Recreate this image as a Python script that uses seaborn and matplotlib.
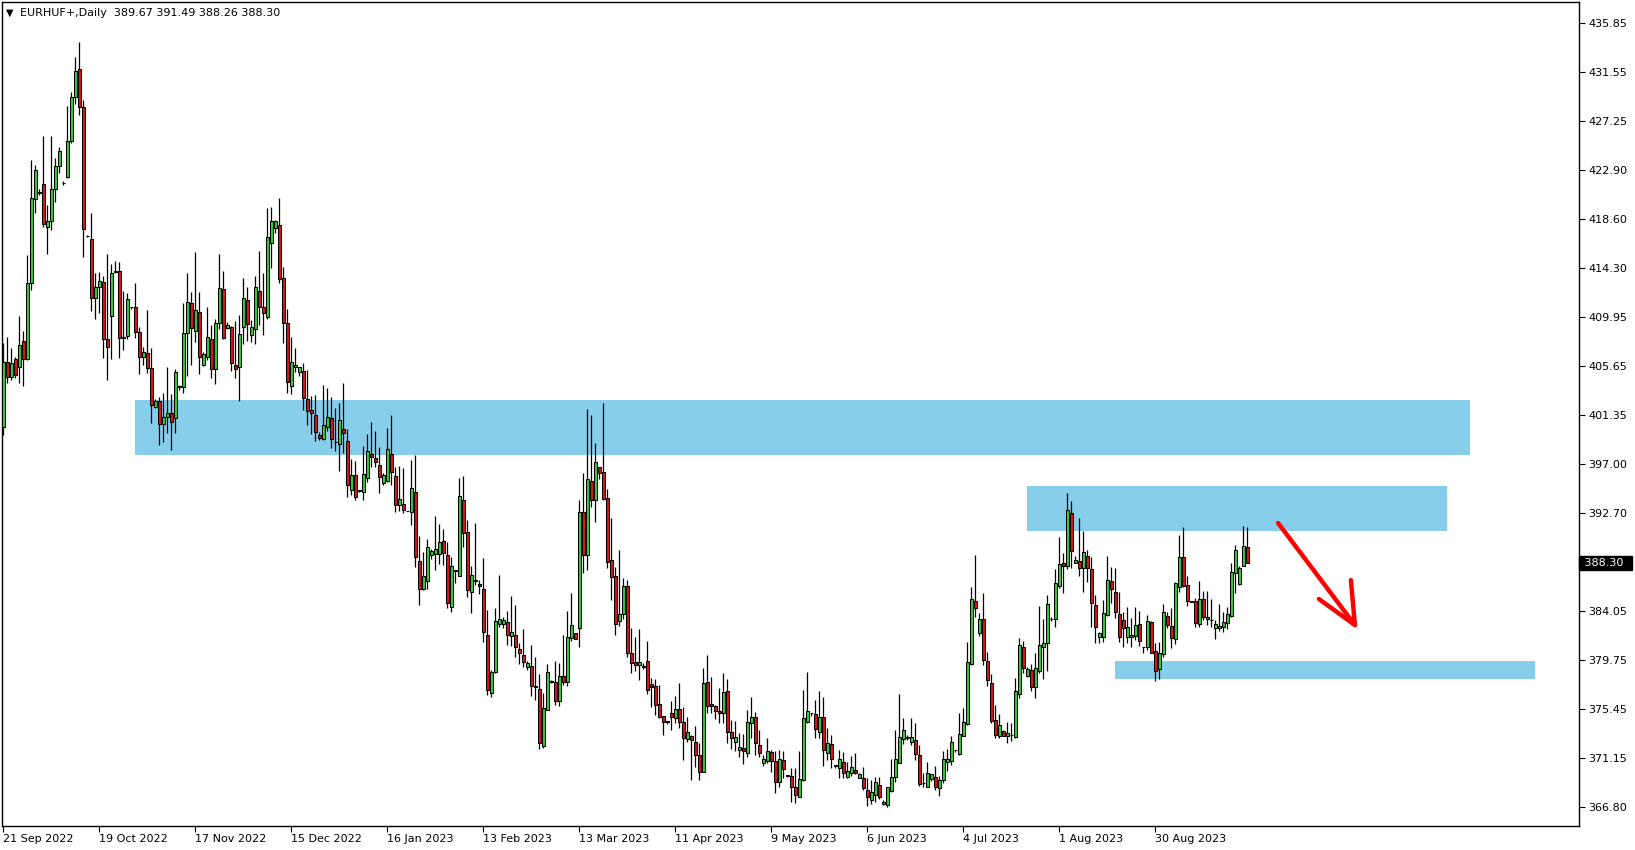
import numpy as np
import pandas as pd
import matplotlib
matplotlib.use("Agg")
import matplotlib.pyplot as plt
import seaborn as sns
from matplotlib import transforms

# ---------------- data ----------------
symbol_title = "EURHUF+,Daily"
title_values = "389.67 391.49 388.26 388.30"

opens = [400.30, 405.97, 404.65, 406.23, 405.53, 407.82, 406.23, 412.92, 420.32, 420.91,
         421.64, 417.85, 418.38, 421.20, 423.25, 421.73, 422.26, 425.43, 429.30, 431.77,
         428.42, 417.09, 416.80, 411.60, 412.57, 413.01, 407.99, 410.07, 413.98, 413.98,
         408.23, 408.29, 410.81, 410.81, 408.61, 406.41, 406.76, 405.44, 402.04, 402.59,
         400.51, 401.12, 401.47, 401.04, 403.82, 403.82, 408.52, 411.16, 408.76, 410.37,
         405.73, 406.47, 408.02, 405.35, 409.46, 412.39, 409.02, 409.08, 405.70, 405.52,
         409.11, 411.42, 408.40, 408.87, 412.22, 410.81, 409.93, 416.44, 417.76, 418.03,
         413.36, 409.40, 403.91, 405.52, 405.14, 405.17, 402.71, 401.77, 401.30, 399.54,
         399.24, 400.24, 401.03, 398.92, 398.75, 400.07, 399.01, 394.69, 396.01, 394.66,
         394.52, 395.75, 397.89, 397.51, 396.93, 395.37, 395.55, 397.86, 395.96, 393.40,
         393.48, 392.87, 392.81, 394.51, 388.43, 386.03, 386.73, 389.02, 389.11, 389.11,
         390.19, 388.96, 384.44, 387.61, 387.17, 393.80, 390.99, 385.70, 386.73, 386.44,
         385.97, 381.92, 376.81, 378.66, 382.92, 382.89, 383.06, 381.86, 381.95, 380.71,
         380.19, 379.10, 379.22, 377.40, 377.19, 372.20, 375.34, 377.84, 377.81, 376.16,
         378.34, 377.84, 381.71, 382.09, 382.53, 392.78, 389.02, 395.51, 393.83, 396.71,
         396.27, 393.98, 388.52, 387.11, 383.18, 383.80, 386.30, 380.34, 379.57, 379.34,
         379.16, 379.69, 377.61, 377.46, 375.84, 374.82, 374.32, 375.05, 374.67, 375.40,
         374.26, 372.76, 373.06, 372.50, 371.38, 369.91, 377.81, 375.87, 375.70, 375.29,
         375.05, 377.02, 373.41, 372.56, 371.82, 371.97, 371.53, 374.17, 374.70, 372.23,
         370.65, 370.88, 371.68, 370.82, 369.03, 370.91, 369.56, 369.53, 368.53, 367.71,
         369.18, 374.26, 375.05, 374.96, 373.44, 374.70, 371.59, 372.32, 370.44, 370.21,
         370.74, 369.48, 369.77, 370.06, 369.39, 369.36, 368.30, 367.42, 367.86, 368.74,
         367.04, 366.95, 368.24, 369.48, 370.71, 372.76, 372.91, 372.56, 372.70, 371.38,
         368.89, 368.54, 369.24, 369.42, 368.51, 369.18, 370.80, 370.86, 371.82, 371.47,
         373.09, 374.12, 379.40, 384.95, 382.16, 383.33, 379.66, 377.75, 374.47, 373.09,
         373.50, 373.09, 373.15, 373.00, 376.73, 380.87, 378.37, 378.87, 377.34, 378.81,
         380.93, 381.28, 383.36, 383.33, 386.26, 388.26, 388.06, 392.66, 388.32, 388.47,
         387.82, 388.94, 387.73, 384.59, 381.80, 381.75, 383.71, 386.71, 385.71, 383.77,
         383.27, 381.75, 381.80, 381.89, 382.89, 380.87, 380.87, 383.10, 380.54, 378.93,
         380.25, 383.62, 382.75, 381.57, 386.21, 388.79, 386.35, 384.89, 384.95, 382.92,
         385.12, 383.33, 383.27, 382.54, 382.60, 382.69, 383.04, 383.65, 387.38, 386.41,
         388.06, 389.67]

highs = [407.64, 408.23, 407.26, 406.47, 410.07, 408.73, 415.42, 423.78, 423.34, 421.20,
         425.90, 419.82, 425.90, 423.96, 424.96, 421.90, 428.54, 429.77, 432.88, 434.17,
         429.07, 417.15, 419.14, 413.86, 413.89, 413.60, 415.51, 414.60, 414.86, 414.77,
         412.25, 412.04, 410.85, 412.92, 409.05, 407.35, 410.57, 407.20, 402.70, 402.94,
         403.24, 405.53, 403.18, 405.35, 404.00, 411.16, 413.80, 412.13, 415.68, 412.13,
         406.85, 410.87, 409.25, 409.81, 415.50, 414.01, 409.55, 409.19, 409.60, 410.13,
         413.36, 412.57, 409.69, 413.60, 415.77, 413.80, 419.53, 419.61, 418.50, 420.44,
         414.33, 410.66, 408.20, 407.23, 405.52, 405.88, 405.29, 403.00, 403.09, 399.86,
         403.97, 403.73, 402.88, 401.91, 402.41, 404.17, 400.09, 397.42, 397.28, 394.70,
         398.60, 399.65, 400.68, 399.95, 398.54, 396.19, 400.15, 401.33, 396.72, 396.80,
         396.62, 392.90, 397.36, 397.80, 390.66, 389.23, 390.37, 389.49, 392.42, 391.72,
         391.28, 390.11, 388.78, 387.65, 395.80, 395.95, 392.07, 388.02, 391.78, 386.79,
         388.73, 384.15, 378.87, 384.32, 387.23, 383.50, 384.06, 385.41, 384.59, 381.21,
         382.47, 379.66, 381.07, 380.04, 378.51, 376.81, 379.36, 378.00, 379.69, 379.51,
         381.95, 384.09, 385.62, 382.15, 393.83, 396.18, 401.82, 401.32, 398.82, 396.71,
         402.40, 394.80, 392.22, 387.90, 389.43, 387.00, 386.80, 382.54, 381.74, 382.45,
         379.45, 381.42, 378.13, 378.04, 377.55, 374.85, 374.35, 376.14, 376.58, 377.75,
         375.58, 374.70, 373.10, 373.94, 372.41, 379.01, 380.19, 378.28, 375.75, 377.25,
         378.63, 378.04, 374.46, 374.38, 373.29, 373.23, 375.35, 376.46, 375.20, 373.58,
         371.38, 372.85, 371.82, 371.76, 371.82, 371.73, 369.60, 370.21, 370.21, 371.76,
         377.11, 378.66, 375.10, 376.23, 377.02, 376.52, 373.73, 373.14, 370.48, 371.82,
         371.62, 370.79, 371.30, 371.59, 369.77, 370.35, 369.33, 369.18, 369.42, 369.42,
         367.42, 368.60, 371.03, 373.59, 376.76, 374.61, 373.10, 374.61, 374.17, 372.26,
         369.83, 370.79, 369.68, 370.44, 369.53, 371.74, 371.88, 373.06, 371.86, 375.11,
         375.49, 381.36, 386.21, 388.99, 383.86, 385.68, 380.43, 378.49, 375.79, 374.96,
         373.55, 374.32, 374.17, 378.13, 381.65, 381.42, 379.10, 379.40, 380.34, 384.51,
         383.36, 385.47, 383.50, 387.73, 390.55, 389.20, 394.43, 393.75, 388.91, 392.22,
         391.11, 389.44, 388.79, 385.47, 382.25, 385.03, 388.91, 387.91, 387.88, 385.77,
         384.01, 384.45, 383.48, 384.45, 384.06, 380.90, 383.71, 383.15, 381.22, 381.30,
         384.68, 384.01, 384.30, 386.65, 390.76, 391.43, 387.15, 384.93, 385.18, 386.71,
         385.83, 385.83, 385.09, 383.27, 384.68, 384.01, 384.45, 388.32, 389.88, 388.03,
         391.55, 391.49]

lows = [399.57, 404.18, 404.41, 404.62, 404.18, 403.91, 406.17, 412.34, 419.14, 420.70,
        417.85, 415.48, 417.62, 420.06, 422.61, 421.60, 422.23, 425.31, 428.71, 427.77,
        415.27, 417.00, 410.52, 409.81, 410.34, 406.38, 404.41, 406.26, 413.85, 406.38,
        407.05, 407.99, 410.63, 408.11, 404.91, 405.73, 405.06, 400.59, 401.90, 398.69,
        398.98, 399.72, 398.25, 399.72, 403.50, 403.24, 404.79, 405.73, 407.79, 404.91,
        405.60, 406.17, 404.56, 404.06, 408.90, 407.99, 408.90, 405.23, 404.61, 402.59,
        407.58, 407.87, 407.78, 407.61, 409.22, 408.37, 409.75, 414.30, 417.32, 412.98,
        407.70, 403.24, 403.21, 405.11, 404.76, 401.77, 400.45, 399.66, 399.07, 399.13,
        399.16, 399.95, 398.39, 398.19, 396.43, 397.95, 394.14, 394.28, 393.84, 394.52,
        393.84, 395.46, 396.72, 396.78, 394.49, 395.16, 395.46, 395.16, 392.80, 392.90,
        392.66, 392.84, 391.63, 387.96, 384.59, 385.91, 386.00, 388.64, 387.67, 388.20,
        388.11, 384.32, 384.00, 386.55, 387.14, 389.72, 385.26, 383.91, 386.35, 385.53,
        381.36, 376.66, 376.52, 378.57, 382.68, 382.53, 381.07, 380.99, 380.04, 379.39,
        379.16, 378.87, 376.60, 376.22, 371.88, 371.97, 375.34, 377.70, 375.78, 375.72,
        377.54, 377.49, 381.42, 381.56, 380.92, 387.43, 387.67, 393.25, 391.93, 395.71,
        393.83, 387.82, 385.03, 381.95, 382.74, 383.40, 380.04, 378.63, 378.81, 377.99,
        378.95, 376.75, 375.64, 374.90, 374.61, 373.14, 374.12, 373.58, 374.17, 373.73,
        370.94, 372.56, 369.18, 370.36, 369.18, 369.91, 375.05, 375.05, 374.55, 374.17,
        374.17, 372.41, 371.88, 371.76, 371.24, 370.56, 371.24, 372.91, 371.38, 371.18,
        370.41, 370.65, 369.91, 368.07, 368.59, 369.33, 369.45, 367.27, 367.13, 367.71,
        369.12, 374.23, 374.82, 372.85, 372.85, 370.44, 370.94, 370.21, 370.21, 369.33,
        369.33, 369.33, 369.53, 369.71, 369.33, 368.30, 366.89, 367.07, 367.27, 367.48,
        366.98, 366.83, 368.16, 369.04, 370.71, 372.32, 372.70, 372.26, 370.94, 368.65,
        368.54, 368.54, 369.10, 368.30, 367.80, 368.89, 370.00, 370.50, 371.62, 371.38,
        373.06, 374.03, 379.31, 383.51, 381.89, 379.31, 377.49, 374.17, 372.91, 372.91,
        373.09, 372.47, 372.65, 372.85, 376.43, 378.63, 378.28, 377.05, 376.43, 378.58,
        378.08, 378.81, 383.20, 382.69, 386.12, 385.68, 387.73, 387.82, 388.30, 387.15,
        385.77, 386.65, 382.69, 381.22, 381.28, 381.36, 383.62, 384.80, 383.42, 381.36,
        380.93, 381.22, 380.93, 381.51, 380.98, 380.34, 380.63, 380.34, 377.90, 378.08,
        379.98, 382.54, 380.78, 381.13, 385.77, 386.15, 384.51, 384.85, 382.69, 382.69,
        383.27, 382.83, 382.69, 381.57, 382.33, 382.25, 382.45, 383.57, 385.68, 386.35,
        388.03, 388.26]

closes = [406.03, 404.65, 405.88, 404.82, 407.49, 406.23, 412.92, 420.41, 422.90, 420.91,
          418.12, 418.38, 421.20, 423.25, 424.58, 421.73, 425.43, 429.30, 431.59, 428.42,
          417.74, 417.09, 411.60, 412.57, 413.10, 407.99, 407.29, 413.80, 413.90, 408.08,
          408.08, 411.51, 410.81, 408.67, 406.41, 406.91, 405.44, 402.21, 402.59, 400.51,
          401.12, 401.47, 400.74, 405.14, 403.82, 408.52, 411.31, 409.02, 410.57, 406.41,
          406.70, 408.17, 405.35, 409.40, 412.48, 408.11, 409.22, 405.94, 405.41, 408.43,
          411.60, 409.31, 409.05, 412.57, 410.81, 410.34, 417.03, 418.38, 418.38, 413.27,
          409.46, 404.20, 405.97, 405.73, 405.52, 402.85, 401.71, 401.47, 399.86, 399.33,
          400.42, 401.18, 399.19, 398.92, 400.89, 399.71, 395.13, 396.01, 394.08, 394.66,
          396.13, 398.16, 397.66, 397.22, 395.90, 396.04, 398.30, 396.34, 393.40, 393.90,
          392.95, 392.87, 394.86, 388.78, 386.03, 387.11, 389.67, 389.32, 389.49, 390.11,
          389.14, 384.79, 387.99, 387.61, 394.16, 390.96, 385.94, 387.20, 386.73, 386.26,
          382.18, 377.10, 378.66, 383.18, 383.33, 383.27, 381.95, 382.18, 380.92, 380.39,
          379.60, 379.45, 377.49, 377.40, 372.41, 375.49, 378.66, 377.84, 376.16, 378.34,
          377.84, 381.77, 382.83, 381.62, 392.75, 389.02, 395.65, 393.83, 397.15, 396.24,
          393.92, 388.40, 387.08, 382.89, 383.80, 386.30, 380.39, 379.51, 379.34, 379.54,
          379.16, 377.11, 377.40, 375.76, 374.76, 374.29, 374.32, 374.70, 375.40, 374.26,
          372.85, 373.38, 372.70, 371.38, 369.91, 377.69, 375.70, 375.70, 375.29, 375.11,
          376.96, 373.44, 372.85, 372.94, 372.12, 371.70, 374.29, 374.76, 372.41, 371.53,
          371.00, 371.76, 370.88, 369.03, 371.00, 370.12, 369.56, 368.59, 367.86, 369.24,
          374.61, 375.29, 375.05, 373.67, 374.76, 371.82, 372.47, 371.00, 370.44, 371.00,
          369.77, 369.98, 370.30, 369.77, 369.68, 368.51, 367.71, 368.16, 368.98, 367.71,
          367.24, 368.54, 369.42, 371.00, 372.94, 373.59, 372.91, 372.94, 371.50, 368.83,
          368.89, 369.77, 369.68, 368.54, 369.18, 371.00, 371.03, 372.50, 371.82, 373.23,
          374.26, 379.60, 385.12, 384.36, 383.36, 379.75, 377.99, 374.38, 373.15, 374.03,
          373.09, 373.35, 373.15, 377.02, 381.07, 379.07, 378.96, 377.40, 379.02, 381.07,
          381.22, 384.68, 383.36, 386.50, 388.17, 388.06, 392.96, 389.38, 388.56, 387.88,
          389.23, 387.88, 384.74, 382.69, 382.13, 383.86, 386.79, 385.97, 383.95, 381.80,
          382.60, 382.63, 381.95, 382.83, 381.45, 380.87, 383.18, 380.40, 378.81, 380.34,
          383.95, 382.83, 381.66, 386.50, 388.79, 386.26, 384.97, 384.89, 383.04, 385.09,
          383.57, 383.57, 383.27, 382.89, 382.75, 383.07, 383.80, 387.47, 389.44, 387.82,
          389.79, 388.30]

date_labels = ["21 Sep 2022", "19 Oct 2022", "17 Nov 2022", "15 Dec 2022", "16 Jan 2023",
               "13 Feb 2023", "13 Mar 2023", "11 Apr 2023", "9 May 2023", "6 Jun 2023",
               "4 Jul 2023", "1 Aug 2023", "30 Aug 2023"]
date_label_bars = [0, 24, 48, 72, 96, 120, 144, 168, 192, 216, 240, 264, 288]

price_ticks = [435.85, 431.55, 427.25, 422.90, 418.60, 414.30, 409.95, 405.65,
               401.35, 397.00, 392.70, 384.05, 379.75, 375.45, 371.15, 366.80]
last_price = 388.30

# support / resistance zones (bar position range, price range)
zone_start = [32.9, 255.9, 277.9]
zone_end = [366.7, 360.9, 382.9]
zone_low = [397.80, 391.11, 378.07]
zone_high = [402.64, 395.07, 379.66]

# hand-drawn arrow (bar position, price)
arrow_shaft_x = [318.7, 337.9]
arrow_shaft_y = [391.81, 382.83]
arrow_head1_x = [328.9, 337.9]
arrow_head1_y = [385.12, 382.83]
arrow_head2_x = [336.9, 337.9]
arrow_head2_y = [386.79, 382.83]

# ---------------- figure ----------------
sns.set_theme(style="white")
plt.rcParams['font.family'] = ['DejaVu Sans']

W, H = 1635, 850
fig = plt.figure(figsize=(W / 100, H / 100), dpi=100)
ax = fig.add_axes([1.5 / W, 24 / H, 1577 / W, 824.5 / H])

df = pd.DataFrame({"open": opens, "high": highs, "low": lows, "close": closes})
df["bar"] = np.arange(len(df))
df["bull"] = df["close"] > df["open"]

GREEN = "#32CD32"
RED = "#D01818"
ZONE = "#87CEEB"

for xs, xe, yl, yh in zip(zone_start, zone_end, zone_low, zone_high):
    ax.fill_between([xs, xe], yl, yh, color=ZONE, lw=0, zorder=1)

ax.vlines(df["bar"], df["low"], df["high"], color="black", lw=0.9, zorder=3)
body_bottom = np.minimum(df["open"], df["close"])
body_height = np.maximum(np.abs(df["close"] - df["open"]), 0.03)
colors = np.where(df["bull"], GREEN, RED)
ax.bar(df["bar"], body_height, bottom=body_bottom, width=0.62, color=colors,
       edgecolor="black", linewidth=0.75, zorder=4)

ax.plot(arrow_shaft_x, arrow_shaft_y, color="#FF0000", lw=3.2, solid_capstyle="round", zorder=6)
ax.plot(arrow_head1_x, arrow_head1_y, color="#FF0000", lw=3.2, solid_capstyle="round", zorder=6)
ax.plot(arrow_head2_x, arrow_head2_y, color="#FF0000", lw=3.2, solid_capstyle="round", zorder=6)

ax.set_xlim(-0.45, 393.8)
ax.set_ylim(365.13, 437.74)

for s in ax.spines.values():
    s.set_visible(True)
    s.set_color("black")
    s.set_linewidth(1.0)

ax.yaxis.tick_right()
ax.set_yticks(price_ticks)
ax.set_yticklabels([f"{v:.2f}" for v in price_ticks], fontsize=8, color="black")
ax.tick_params(axis="y", which="major", right=True, left=False, direction="out",
               length=4, width=0.8, pad=3, colors="black")

ax.set_xticks(date_label_bars)
ax.set_xticklabels(date_labels, fontsize=8, color="black", ha="left")
ax.tick_params(axis="x", which="major", bottom=True, direction="out", length=4,
               width=0.8, pad=2, colors="black")
ax.grid(False)

# current price box
trans = transforms.blended_transform_factory(ax.transAxes, ax.transData)
ax.text(1.0015, last_price, f" {last_price:.2f}  ", transform=trans, fontsize=8,
        color="white", ha="left", va="center", zorder=10, clip_on=False,
        bbox=dict(boxstyle="square,pad=0.2", fc="black", ec="black"))

# header
fig.text(6 / W, 1 - 13 / H, "▼", fontsize=7, color="black", ha="left", va="center")
fig.text(20 / W, 1 - 13 / H, f"{symbol_title}  {title_values}", fontsize=8,
         color="black", ha="left", va="center")

fig.savefig("out.png", dpi=100)
